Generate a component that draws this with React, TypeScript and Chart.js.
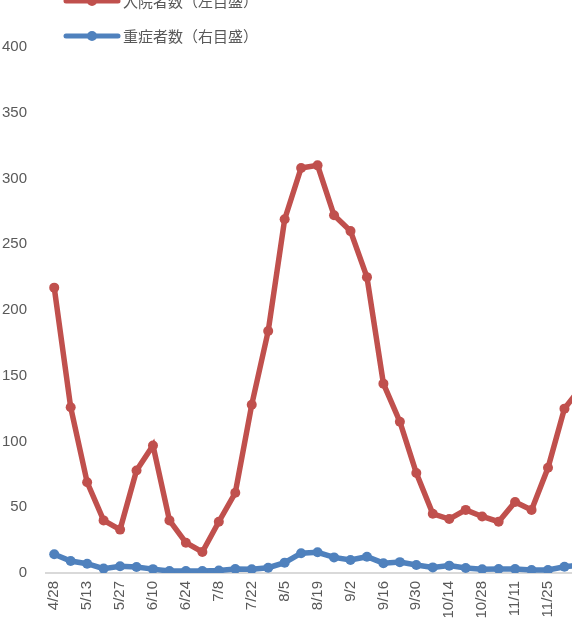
import React, { useEffect, useRef } from "react";
import { Chart, registerables } from "chart.js";

Chart.register(...registerables);

const dates = [
  "4/28", "5/6", "5/13", "5/20", "5/27", "6/3", "6/10", "6/17", "6/24", "7/1",
  "7/8", "7/15", "7/22", "7/29", "8/5", "8/12", "8/19", "8/26", "9/2", "9/9",
  "9/16", "9/23", "9/30", "10/7", "10/14", "10/21", "10/28", "11/4", "11/11", "11/18",
  "11/25", "12/2", "12/9",
];

const hospitalized = [
  217, 126, 69, 40, 33, 78, 97, 40, 23, 16,
  39, 61, 128, 184, 269, 308, 310, 272, 260, 225,
  144, 115, 76, 45, 41, 48, 43, 39, 54, 48,
  80, 125, 141,
];

const severe = [
  10.7, 6.8, 5.3, 2.5, 3.8, 3.4, 2.2, 1.1, 1.1, 1.1,
  1.4, 2.3, 2.1, 3.0, 5.9, 11.3, 11.8, 8.9, 7.4, 9.3,
  5.6, 6.2, 4.6, 3.2, 4.2, 2.9, 2.1, 2.3, 2.3, 1.7,
  1.7, 3.6, 4.5,
];

const leftTicks = [0, 50, 100, 150, 200, 250, 300, 350, 400];
const legendLabels = ["入院者数（左目盛）", "重症者数（右目盛）"];

const RED = "#C0504D";
const BLUE = "#4F81BD";
const GREY = "#595959";

export default function App() {
  const ref = useRef<HTMLCanvasElement>(null);

  useEffect(() => {
    document.body.style.margin = "0";
    const canvas = ref.current;
    if (!canvas) return;
    const chart = new Chart(canvas, {
      type: "line",
      data: {
        labels: dates,
        datasets: [
          {
            label: legendLabels[0],
            data: hospitalized,
            yAxisID: "y",
            borderColor: RED,
            backgroundColor: RED,
            borderWidth: 5.5,
            pointRadius: 5,
            pointBorderWidth: 0,
            pointBackgroundColor: RED,
            tension: 0,
            order: 1,
          },
          {
            label: legendLabels[1],
            data: severe,
            yAxisID: "y1",
            borderColor: BLUE,
            backgroundColor: BLUE,
            borderWidth: 5.5,
            pointRadius: 5,
            pointBorderWidth: 0,
            pointBackgroundColor: BLUE,
            tension: 0,
            order: 0,
          },
        ],
      },
      options: {
        responsive: false,
        animation: false,
        layout: { padding: { top: 47, left: 0, right: 0, bottom: 0 } },
        plugins: { legend: { display: false }, tooltip: { enabled: false } },
        scales: {
          x: {
            offset: true,
            grid: { display: false, drawTicks: false },
            border: { display: true, color: "#D9D9D9", width: 2 },
            ticks: {
              autoSkip: false,
              minRotation: 90,
              maxRotation: 90,
              padding: 8,
              color: GREY,
              font: { family: "'Liberation Sans', Arial, sans-serif", size: 15 },
              callback: (_v: any, i: number) => (i % 2 === 0 ? dates[i] : ""),
            },
            afterFit: (s: any) => {
              s.height = 55;
            },
          },
          y: {
            position: "left",
            min: 0,
            max: 400,
            grid: { display: false, drawTicks: false },
            border: { display: false },
            afterBuildTicks: (s: any) => {
              s.ticks = leftTicks.map((v) => ({ value: v }));
            },
            ticks: {
              padding: 19,
              color: GREY,
              font: { family: "'Liberation Sans', Arial, sans-serif", size: 15 },
            },
            afterFit: (s: any) => {
              s.width = 46;
            },
          },
          y1: {
            position: "right",
            display: false,
            min: 0,
            max: 300,
          },
        },
      },
    });
    return () => chart.destroy();
  }, []);

  const legendRow = (color: string, text: string, cy: number) => (
    <div key={text}>
      <svg
        width={60}
        height={14}
        style={{ position: "absolute", left: 62, top: cy - 7 }}
      >
        <line x1={4} y1={7} x2={56} y2={7} stroke={color} strokeWidth={5} strokeLinecap="round" />
        <circle cx={30} cy={7} r={5} fill={color} />
      </svg>
      <span
        style={{
          position: "absolute",
          left: 123,
          top: cy - 11,
          height: 22,
          lineHeight: "22px",
          fontSize: 15,
          color: GREY,
          whiteSpace: "nowrap",
          fontFamily: "'Noto Sans CJK JP', sans-serif",
        }}
      >
        {text}
      </span>
    </div>
  );

  return (
    <div style={{ position: "relative", width: 572, height: 628, overflow: "hidden", background: "#fff" }}>
      <canvas ref={ref} width={607} height={628} style={{ position: "absolute", left: 0, top: 0 }} />
      {legendRow(RED, legendLabels[0], 1)}
      {legendRow(BLUE, legendLabels[1], 36)}
    </div>
  );
}
